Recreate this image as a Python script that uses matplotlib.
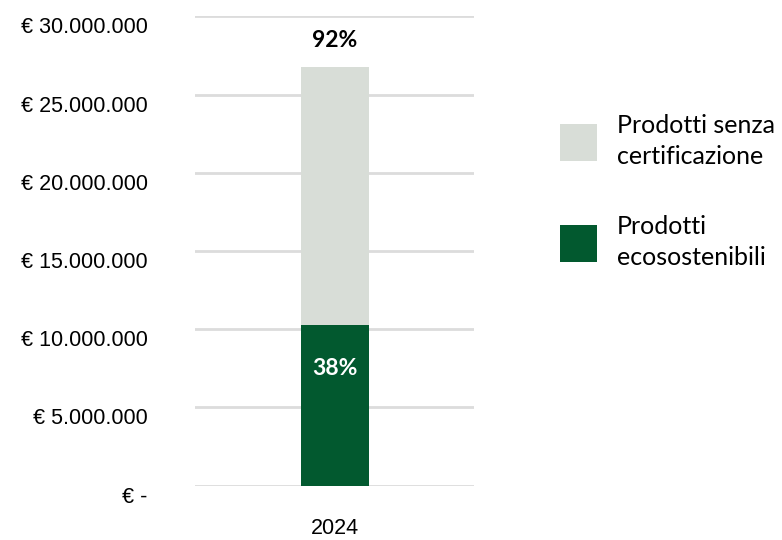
import matplotlib.pyplot as plt
import matplotlib.transforms as mtransforms

years = ['2024']
eco = [10270000]
senza = [16520000]
eco_lbl = ['38%']
senza_lbl = ['92%']
ticks = [0, 5000000, 10000000, 15000000, 20000000, 25000000, 30000000]
tick_lbls = ['€ -', '€ 5.000.000', '€ 10.000.000', '€ 15.000.000',
             '€ 20.000.000', '€ 25.000.000', '€ 30.000.000']

c_eco = '#02592f'
c_senza = '#d8ddd7'

fig = plt.figure(figsize=(7.82, 5.40), dpi=100)
ax = fig.add_axes([0.2494, 0.1006, 0.3568, 0.8689])

x = range(len(years))
b1 = ax.bar(x, eco, width=0.487, color=c_eco, label='Prodotti\necosostenibili', zorder=3)
tops = [e + s for e, s in zip(eco, senza)]
b2 = ax.bar(x, senza, bottom=eco, width=0.487, color=c_senza,
            label='Prodotti senza\ncertificazione', zorder=3)

ax.set_xlim(-1, 1)
ax.set_ylim(0, 30000000)
ax.set_yticks(ticks)
ax.set_yticklabels(tick_lbls, family='Liberation Sans', fontsize=15.5)
ax.set_xticks(list(x))
ax.set_xticklabels(years, family='Liberation Sans', fontsize=15.5)
ax.tick_params(axis='y', length=0, pad=34)
ax.tick_params(axis='x', length=0, pad=23)
ax.grid(axis='y', color='#dcdcdc', linewidth=2, zorder=0)
for s in ax.spines.values():
    s.set_visible(False)

# labels sit a bit below their gridlines
off = mtransforms.ScaledTranslation(0, -9 / 100, fig.dpi_scale_trans)
for t in ax.get_yticklabels():
    t.set_transform(t.get_transform() + off)

for i in x:
    ax.annotate(eco_lbl[i], (i, eco[i]), xytext=(0, -43), textcoords='offset pixels',
                ha='center', va='center', color='white', fontweight='bold',
                family='Lato', fontsize=16.5)
    ax.annotate(senza_lbl[i], (i, tops[i]), xytext=(0, 26), textcoords='offset pixels',
                ha='center', va='center', color='black', fontweight='bold',
                family='Lato', fontsize=16.5)

leg = fig.legend(handles=[b2, b1], loc='upper left', bbox_to_anchor=(0.716, 0.7885),
                 frameon=False, prop={'family': 'Lato', 'size': 18},
                 handlelength=1.48, handleheight=1.9, handletextpad=0.8,
                 labelspacing=1.9, borderpad=0, borderaxespad=0)
for t in leg.get_texts():
    t.set_linespacing(1.4)

fig.savefig('out.png', dpi=100)
